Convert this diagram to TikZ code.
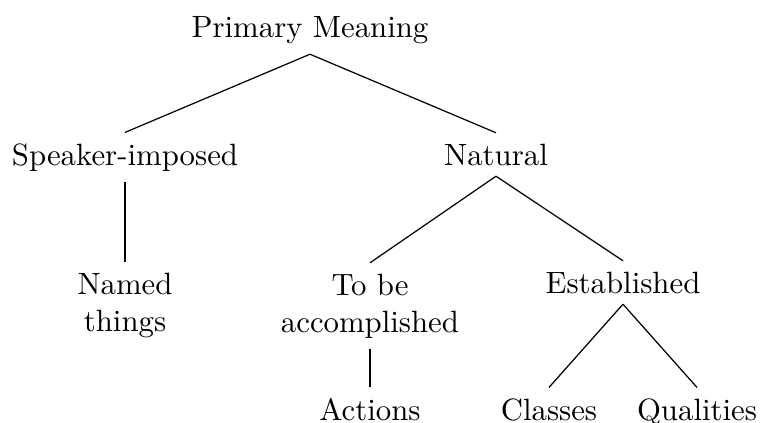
\documentclass[tikz,border=0pt]{standalone}
\begin{document}
\begin{tikzpicture}[x=0.3247pt, y=-0.3247pt,
  treenode/.style={anchor=base, inner sep=3.33pt},
  multinode/.style={treenode, align=center},
  branch/.style={draw=black, line width=0.4pt}]
  \useasboundingbox (0,0) rectangle (760,423);

  % levels of the classification tree
  \node[treenode] (pm) at (310,37) {Primary Meaning};
  \node[treenode] (sp) at (125,165) {Speaker-imposed};
  \node[treenode] (nat) at (496,165) {Natural};
  \node[multinode] (named) at (125,331) {Named\\things};
  \node[multinode] (tobe) at (370,332) {To be\\accomplished};
  \node[treenode] (est) at (623,293) {Established};
  \node[treenode] (act) at (370,420) {Actions};
  \node[treenode] (cls) at (549,420) {Classes};
  \node[treenode] (qual) at (697,420) {Qualities};

  % branches
  \draw[branch] (pm.south) -- (sp.north);
  \draw[branch] (pm.south) -- (nat.north);
  \draw[branch] (sp.south) -- (named.north);
  \draw[branch] (nat.south) -- (tobe.north);
  \draw[branch] (nat.south) -- (est.north);
  \draw[branch] (tobe.south) -- (act.north);
  \draw[branch] (est.south) -- (cls.north);
  \draw[branch] (est.south) -- (qual.north);
\end{tikzpicture}
\end{document}
